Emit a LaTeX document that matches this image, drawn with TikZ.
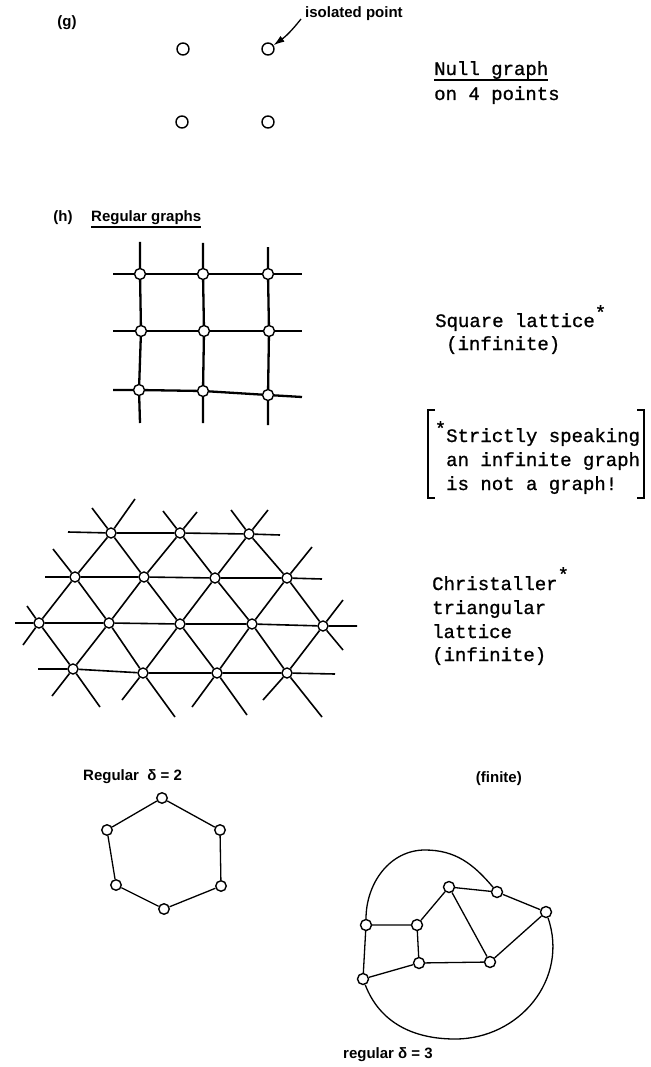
\documentclass[tikz,border=0pt]{standalone}
\usepackage{fontspec}
\setmainfont{Liberation Sans}
\newfontfamily\twfont[FakeBold=1]{Liberation Mono}
\usetikzlibrary{arrows.meta}
\begin{document}
\begin{tikzpicture}[x=1pt,y=-1pt,
  lab/.style={font=\fontsize{15}{18}\selectfont\bfseries,inner sep=0pt},
  tw/.style={font=\twfont\fontsize{19}{23.5}\selectfont,inner sep=0pt},
  vtx/.style={circle,draw,fill=white,inner sep=0pt,minimum size=#1,line width=1.4pt},
  vtx/.default=11pt,
  sqline/.style={line width=2.3pt},
  trline/.style={line width=1.6pt},
  gline/.style={line width=1.3pt},
  uline/.style={line width=1.8pt},
  brk/.style={line width=2pt}]
\useasboundingbox (0,0) rectangle (650,1067);

% ---------- (g) null graph ----------
\node[lab,anchor=base] (glab) at (67,27) {(g)};
\node[vtx=12pt] (n1) at (183,49) {};
\node[vtx=12pt] (n2) at (268,49) {};
\node[vtx=12pt] (n3) at (182,122) {};
\node[vtx=12pt] (n4) at (268,122) {};
\node[lab,anchor=base west] (iso) at (305,18) {isolated point};
\coordinate (isotail) at (301,19);
\draw[line width=1.3pt,-{Latex[length=11pt,width=7pt]}] (isotail) to[bend left=8] (n2);
\node[tw,anchor=base west] (null1) at (434,75) {Null graph};
\node[tw,anchor=base west] (null2) at (434,100) {on 4 points};
\draw[uline] ([yshift=-5pt]null1.base west) -- ([yshift=-5pt]null1.base east);

% ---------- (h) regular graphs ----------
\node[lab,anchor=base] (hlab) at (63,222) {(h)};
\node[lab,anchor=base west] (reg) at (91,222) {Regular graphs};
\draw[uline] ([yshift=-5pt]reg.base west) -- ([yshift=-5pt]reg.base east);

% square lattice
\node[vtx] (s11) at (140,274) {};
\node[vtx] (s12) at (203,274) {};
\node[vtx] (s13) at (268,274) {};
\node[vtx] (s21) at (141,331) {};
\node[vtx] (s22) at (204,331) {};
\node[vtx] (s23) at (269,331) {};
\node[vtx] (s31) at (139,390) {};
\node[vtx] (s32) at (203,391) {};
\node[vtx] (s33) at (268,395) {};
\coordinate (r1a) at (113,274); \coordinate (r1b) at (302,274);
\coordinate (r2a) at (113,331); \coordinate (r2b) at (302,331);
\coordinate (r3a) at (113,390); \coordinate (r3b) at (302,397);
\coordinate (k1a) at (140,242); \coordinate (k1b) at (140,423);
\coordinate (k2a) at (203,243); \coordinate (k2b) at (203,423);
\coordinate (k3a) at (268,247); \coordinate (k3b) at (268,425);
\draw[sqline] (r1a) -- (s11) -- (s12) -- (s13) -- (r1b);
\draw[sqline] (r2a) -- (s21) -- (s22) -- (s23) -- (r2b);
\draw[sqline] (r3a) -- (s31) -- (s32) -- (s33) -- (r3b);
\draw[sqline] (k1a) -- (s11) -- (s21) -- (s31) -- (k1b);
\draw[sqline] (k2a) -- (s12) -- (s22) -- (s32) -- (k2b);
\draw[sqline] (k3a) -- (s13) -- (s23) -- (s33) -- (k3b);

\node[tw,anchor=base west] (sq1) at (435,327) {Square lattice\raisebox{8pt}{*}};
\node[tw,anchor=base west] (sq2) at (446,350) {(infinite)};

% note in brackets
\node[tw,anchor=base west] (nt1) at (446,442) {\llap{\raisebox{7pt}{*}}Strictly speaking};
\node[tw,anchor=base west] (nt2) at (446,466) {an infinite graph};
\node[tw,anchor=base west] (nt3) at (446,490) {is not a graph!};
\draw[brk] (435,410) -- (428,410) -- (428,498) -- (435,498);
\draw[brk] (637,410) -- (644,410) -- (644,498) -- (637,498);

% triangular lattice
\begin{scope}[every node/.style={vtx=10pt}]
\node (t02) at (111,533) {};
\node (t04) at (180,533) {};
\node (t06) at (249,534) {};
\node (t11) at (75,577) {};
\node (t13) at (144,577) {};
\node (t15) at (215,578) {};
\node (t17) at (287,578) {};
\node (t20) at (39,623) {};
\node (t22) at (109,623) {};
\node (t24) at (180,624) {};
\node (t26) at (252,624) {};
\node (t28) at (323,626) {};
\node (t31) at (73,669) {};
\node (t33) at (143,673) {};
\node (t35) at (217,673) {};
\node (t37) at (287,673) {};
\end{scope}
\coordinate (h0a) at (68,532);  \coordinate (h0b) at (280,535);
\coordinate (h1a) at (45,577);  \coordinate (h1b) at (322,579);
\coordinate (h2a) at (15,623);  \coordinate (h2b) at (357,626);
\coordinate (h3a) at (38,669);  \coordinate (h3b) at (335,674);
\coordinate (cm2a) at (27,606); \coordinate (cm2b) at (100,707);
\coordinate (c0a) at (53,549);  \coordinate (c0b) at (175,717);
\coordinate (c2a) at (92,508);  \coordinate (c2b) at (247,715);
\coordinate (c4a) at (163,511); \coordinate (c4b) at (322,717);
\coordinate (c6a) at (231,510); \coordinate (c6b) at (343,650);
\coordinate (d2a) at (135,499); \coordinate (d2b) at (23,645);
\coordinate (d4a) at (197,512); \coordinate (d4b) at (52,696);
\coordinate (d6a) at (268,510); \coordinate (d6b) at (122,700);
\coordinate (d8a) at (312,547); \coordinate (d8b) at (192,707);
\coordinate (d10a) at (343,600); \coordinate (d10b) at (263,700);
\draw[trline] (h0a) -- (t02) -- (t04) -- (t06) -- (h0b);
\draw[trline] (h1a) -- (t11) -- (t13) -- (t15) -- (t17) -- (h1b);
\draw[trline] (h2a) -- (t20) -- (t22) -- (t24) -- (t26) -- (t28) -- (h2b);
\draw[trline] (h3a) -- (t31) -- (t33) -- (t35) -- (t37) -- (h3b);
\draw[trline] (cm2a) -- (t20) -- (t31) -- (cm2b);
\draw[trline] (c0a) -- (t11) -- (t22) -- (t33) -- (c0b);
\draw[trline] (c2a) -- (t02) -- (t13) -- (t24) -- (t35) -- (c2b);
\draw[trline] (c4a) -- (t04) -- (t15) -- (t26) -- (t37) -- (c4b);
\draw[trline] (c6a) -- (t06) -- (t17) -- (t28) -- (c6b);
\draw[trline] (d2a) -- (t02) -- (t11) -- (t20) -- (d2b);
\draw[trline] (d4a) -- (t04) -- (t13) -- (t22) -- (t31) -- (d4b);
\draw[trline] (d6a) -- (t06) -- (t15) -- (t24) -- (t33) -- (d6b);
\draw[trline] (d8a) -- (t17) -- (t26) -- (t35) -- (d8b);
\draw[trline] (d10a) -- (t28) -- (t37) -- (d10b);

\node[tw,anchor=base west] (ch1) at (432,590) {Christaller\raisebox{9pt}{*}};
\node[tw,anchor=base west] (ch2) at (432,614) {triangular};
\node[tw,anchor=base west] (ch3) at (432,638) {lattice};
\node[tw,anchor=base west] (ch4) at (432,661) {(infinite)};

% hexagon
\node[lab,anchor=base west] (rg2) at (83,780) {Regular\ \ δ = 2};
\node[vtx=10.5pt] (hx1) at (162,798) {};
\node[vtx=10.5pt] (hx2) at (220,830) {};
\node[vtx=10.5pt] (hx3) at (221,886) {};
\node[vtx=10.5pt] (hx4) at (164,909) {};
\node[vtx=10.5pt] (hx5) at (116,885) {};
\node[vtx=10.5pt] (hx6) at (107,830) {};
\draw[gline] (hx1) -- (hx2) -- (hx3) -- (hx4) -- (hx5) -- (hx6) -- (hx1);

% cubic graph
\node[lab,anchor=base east] (fin) at (522,782) {(finite)};
\node[vtx] (ga) at (366,925) {};
\node[vtx] (gb) at (417,925) {};
\node[vtx] (gc) at (449,887) {};
\node[vtx] (gd) at (497,892) {};
\node[vtx] (ge) at (546,912) {};
\node[vtx] (gf) at (490,962) {};
\node[vtx] (gg) at (419,963) {};
\node[vtx] (gh) at (363,979) {};
\coordinate (gtop) at (425,850);
\coordinate (gbot) at (455,1039);
\draw[gline] (ga) -- (gb) -- (gc) -- (gd) -- (ge) -- (gf) -- (gg) -- (gh) -- (ga);
\draw[gline] (gb) -- (gg);
\draw[gline] (gc) -- (gf);
\draw[gline] (ga) to[out=90,in=180] (gtop) to[out=0,in=130] (gd);
\draw[gline] (ge) to[out=-71,in=0,looseness=1.08] (gbot) to[out=180,in=-69] (gh);
\node[lab,anchor=base west] (rg3) at (343,1058) {regular δ = 3};
\end{tikzpicture}
\end{document}
